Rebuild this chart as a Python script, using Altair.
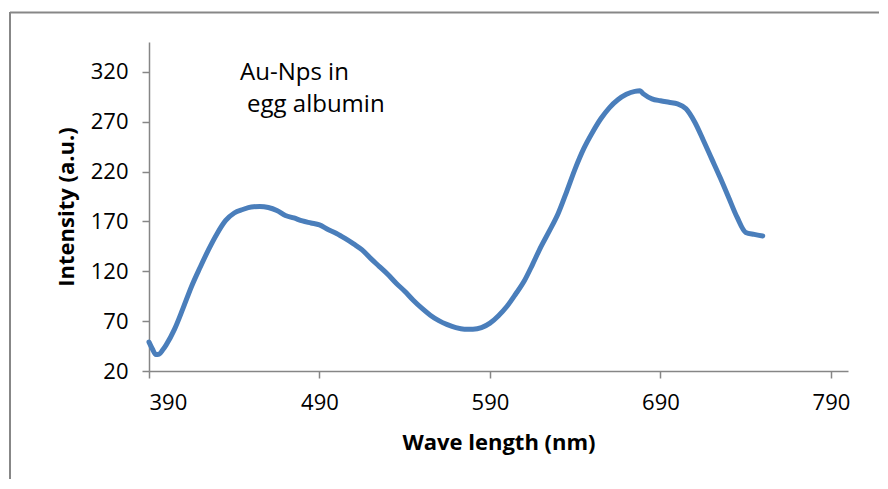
import altair as alt
import pandas as pd

wavelength = [390, 392, 394, 396, 398, 400, 405, 410, 415, 420, 425, 430, 435, 440, 445,
              450, 455, 460, 465, 470, 475, 480, 485, 490, 495, 500, 505, 510, 515, 520,
              525, 530, 535, 540, 545, 550, 555, 560, 565, 570, 575, 580, 585, 590, 595,
              600, 605, 610, 615, 620, 625, 630, 635, 640, 645, 650, 655, 660, 665, 670,
              675, 678, 680, 685, 690, 695, 700, 705, 710, 715, 720, 725, 730, 735, 740,
              745, 750]
intensity = [49, 42, 36.5, 37, 41, 46, 62, 83, 105, 124, 142, 158, 171, 178.5, 182,
             184.5, 185, 184, 181, 176, 173.5, 170.5, 168.5, 166.5, 162, 158, 153, 147.5, 141.5, 133,
             125, 117, 108, 100, 91, 83, 76, 70.5, 66.5, 63.5, 62, 62, 63.5, 68, 75.5,
             85, 97, 110, 127, 145, 161, 178, 200, 223, 243, 259, 273, 284, 292, 297.5,
             300.5, 301, 298, 293, 291, 289.5, 288, 283, 270, 252, 233, 214, 194, 174, 159,
             157, 155.5]

x_ticks = [390, 490, 590, 690, 790]
y_ticks = [20, 70, 120, 170, 220, 270, 320]

ann_text = ["Au-Nps in", "egg albumin"]
ann_x = [443.4, 447.5]
ann_y = [311.5, 279.5]

df = pd.DataFrame({"wl": wavelength, "inten": intensity})
ann = pd.DataFrame({"t": ann_text, "x": ann_x, "y": ann_y})

FONT = "Open Sans"
GRAY = "#878787"

x_enc = alt.X("wl:Q", scale=alt.Scale(domain=[390, 800], nice=False, zero=False),
              axis=alt.Axis(values=x_ticks, title="Wave length (nm)", labelPadding=14,
                            titlePadding=19))
y_enc = alt.Y("inten:Q", scale=alt.Scale(domain=[20, 350], nice=False, zero=False),
              axis=alt.Axis(values=y_ticks, title="Intensity (a.u.)", labelPadding=14,
                            titlePadding=12))

line = alt.Chart(df).mark_line(color="#4A7EBB", strokeWidth=5, strokeCap="round",
                               strokeJoin="round", interpolate="monotone").encode(x=x_enc, y=y_enc)

text = alt.Chart(ann).mark_text(align="left", baseline="alphabetic", font=FONT,
                                fontSize=24, color="black").encode(
    x=alt.X("x:Q"), y=alt.Y("y:Q"), text="t:N")

one = alt.Data(values=[{}])
top_edge = alt.Chart(one).mark_rule(color=GRAY, strokeWidth=2).encode(
    x=alt.value(-139), x2=alt.value(730), y=alt.value(-29.5))
left_edge = alt.Chart(one).mark_rule(color=GRAY, strokeWidth=2).encode(
    x=alt.value(-139), y=alt.value(-30), y2=alt.value(480))

chart = alt.layer(top_edge, left_edge, line, text).properties(
    width=699, height=329,
    autosize=alt.AutoSizeParams(type="none"),
    padding={"left": 141, "top": 34, "right": 31, "bottom": 108},
).configure_view(stroke=None).configure_axis(
    grid=False, domainColor="#868686", domainWidth=1.5, tickColor="#868686", tickWidth=1.5,
    tickSize=7, labelFont=FONT, labelFontSize=22, labelColor="black",
    titleFont=FONT, titleFontSize=22, titleFontWeight="bold", titleColor="black",
)

chart.save("out.html", embed_options={"renderer": "svg", "actions": False})
